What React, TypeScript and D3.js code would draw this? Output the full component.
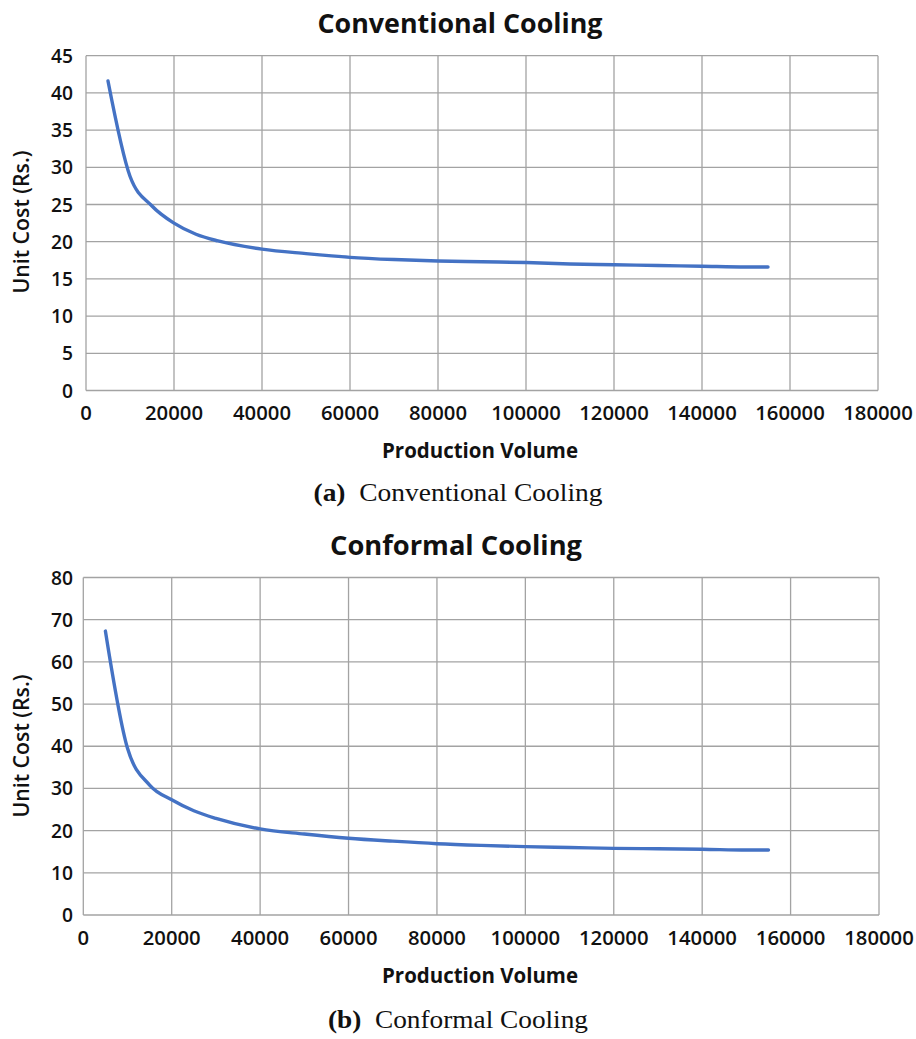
import React, { useEffect, useRef } from "react";
import * as d3 from "d3";

// data -------------------------------------------------------------
const volumes = [5000, 10000, 15000, 20000, 25000, 30000, 40000, 50000, 60000, 70000, 80000, 90000, 100000, 110000, 120000, 130000, 140000, 150000, 155000];
const conventionalCost = [41.6, 28.8, 24.8, 22.5, 21.0, 20.1, 19.0, 18.4, 17.9, 17.6, 17.4, 17.3, 17.2, 17.0, 16.9, 16.8, 16.7, 16.6, 16.6];
const conformalCost = [67.3, 39.5, 30.8, 27.3, 24.7, 22.9, 20.4, 19.2, 18.2, 17.5, 16.9, 16.5, 16.2, 16.0, 15.8, 15.7, 15.6, 15.4, 15.4];

const xTicks = [0, 20000, 40000, 60000, 80000, 100000, 120000, 140000, 160000, 180000];
const conventionalTicks = [0, 5, 10, 15, 20, 25, 30, 35, 40, 45];
const conformalTicks = [0, 10, 20, 30, 40, 50, 60, 70, 80];

const W = 916, H = 1039;
const FONT = "'Open Sans', sans-serif";
const GRID = "#a3a3a3";
const LINE = "#4472c4";

type Panel = {
  title: string; titleLen: number; titleY: number; titleX: number;
  tag: string; caption: string; capLen: number; capY: number; capX: number;
  values: number[]; ticks: number[];
  box: { left: number; right: number; top: number; bottom: number };
  xTickY: number; xTitleY: number; yTitleY: number;
};

const panels: Panel[] = [
  {
    title: "Conventional Cooling", titleLen: 285, titleY: 33, titleX: 460,
    tag: "(a)", caption: "Conventional Cooling", capLen: 289, capY: 501, capX: 458,
    values: conventionalCost, ticks: conventionalTicks,
    box: { left: 86, right: 878, top: 55.7, bottom: 390.5 },
    xTickY: 420, xTitleY: 458, yTitleY: 222,
  },
  {
    title: "Conformal Cooling", titleLen: 252, titleY: 555, titleX: 456,
    tag: "(b)", caption: "Conformal Cooling", capLen: 260, capY: 1028, capX: 458,
    values: conformalCost, ticks: conformalTicks,
    box: { left: 83.3, right: 879, top: 577.5, bottom: 915 },
    xTickY: 945, xTitleY: 983, yTitleY: 746,
  },
];

const App = () => {
  const ref = useRef<SVGSVGElement>(null);

  useEffect(() => {
    const svg = d3.select(ref.current);
    svg.selectAll("*").remove();

    panels.forEach((p) => {
      const g = svg.append("g");
      const { left, right, top, bottom } = p.box;

      const x = d3.scaleLinear().domain([0, 180000]).range([left, right]);
      const y = d3.scaleLinear().domain([0, p.ticks[p.ticks.length - 1]]).range([bottom, top]);

      // grid
      g.selectAll(".hgrid")
        .data(p.ticks)
        .join("line")
        .attr("x1", left).attr("x2", right)
        .attr("y1", (d) => y(d)).attr("y2", (d) => y(d))
        .attr("stroke", GRID).attr("stroke-width", 1.3);
      g.selectAll(".vgrid")
        .data(xTicks)
        .join("line")
        .attr("x1", (d) => x(d)).attr("x2", (d) => x(d))
        .attr("y1", top).attr("y2", bottom)
        .attr("stroke", GRID).attr("stroke-width", 1.3);

      // tick labels
      g.selectAll(".ylab")
        .data(p.ticks)
        .join("text")
        .attr("x", 73).attr("y", (d) => y(d) + 7)
        .attr("text-anchor", "end")
        .attr("textLength", (d) => String(d).length * 11)
        .attr("lengthAdjust", "spacingAndGlyphs")
        .style("font-family", FONT).style("font-size", "19px").style("font-weight", 600)
        .attr("fill", "#111")
        .text((d) => d);
      g.selectAll(".xlab")
        .data(xTicks)
        .join("text")
        .attr("x", (d) => x(d)).attr("y", p.xTickY)
        .attr("text-anchor", "middle")
        .attr("textLength", (d) => String(d).length * 11.6)
        .attr("lengthAdjust", "spacingAndGlyphs")
        .style("font-family", FONT).style("font-size", "19px").style("font-weight", 600)
        .attr("fill", "#111")
        .text((d) => d);

      // the curve
      const line = d3.line<number>()
        .x((d, i) => x(volumes[i]))
        .y((d) => y(d))
        .curve(d3.curveMonotoneX);
      g.append("path")
        .datum(p.values)
        .attr("d", line)
        .attr("fill", "none")
        .attr("stroke", LINE)
        .attr("stroke-width", 3.4)
        .attr("stroke-linecap", "round");

      // titles
      g.append("text")
        .attr("x", p.titleX).attr("y", p.titleY)
        .attr("text-anchor", "middle")
        .attr("textLength", p.titleLen).attr("lengthAdjust", "spacingAndGlyphs")
        .style("font-family", FONT).style("font-size", "26px").style("font-weight", 700)
        .attr("fill", "#111")
        .text(p.title);
      g.append("text")
        .attr("x", 480).attr("y", p.xTitleY)
        .attr("text-anchor", "middle")
        .attr("textLength", 196).attr("lengthAdjust", "spacingAndGlyphs")
        .style("font-family", FONT).style("font-size", "22px").style("font-weight", 700)
        .attr("fill", "#111")
        .text("Production Volume");
      g.append("text")
        .attr("transform", `translate(29,${p.yTitleY}) rotate(-90)`)
        .attr("text-anchor", "middle")
        .attr("textLength", 143).attr("lengthAdjust", "spacingAndGlyphs")
        .style("font-family", FONT).style("font-size", "21px").style("font-weight", 600)
        .attr("fill", "#111")
        .text("Unit Cost (Rs.)");

      // caption under the panel
      const cap = g.append("text")
        .attr("x", p.capX).attr("y", p.capY)
        .attr("text-anchor", "middle")
        .attr("textLength", p.capLen).attr("lengthAdjust", "spacingAndGlyphs")
        .style("font-family", "'Liberation Serif', 'Times New Roman', serif")
        .style("font-size", "25px")
        .attr("fill", "#111");
      cap.append("tspan").style("font-weight", 700).text(p.tag);
      cap.append("tspan").text("\u00a0\u00a0" + p.caption);
    });
  }, []);

  return (
    <div style={{ position: "absolute", left: 0, top: 0, width: W, height: H, background: "#fff" }}>
      <svg ref={ref} width={W} height={H} style={{ display: "block" }}></svg>
    </div>
  );
};

export default App;
